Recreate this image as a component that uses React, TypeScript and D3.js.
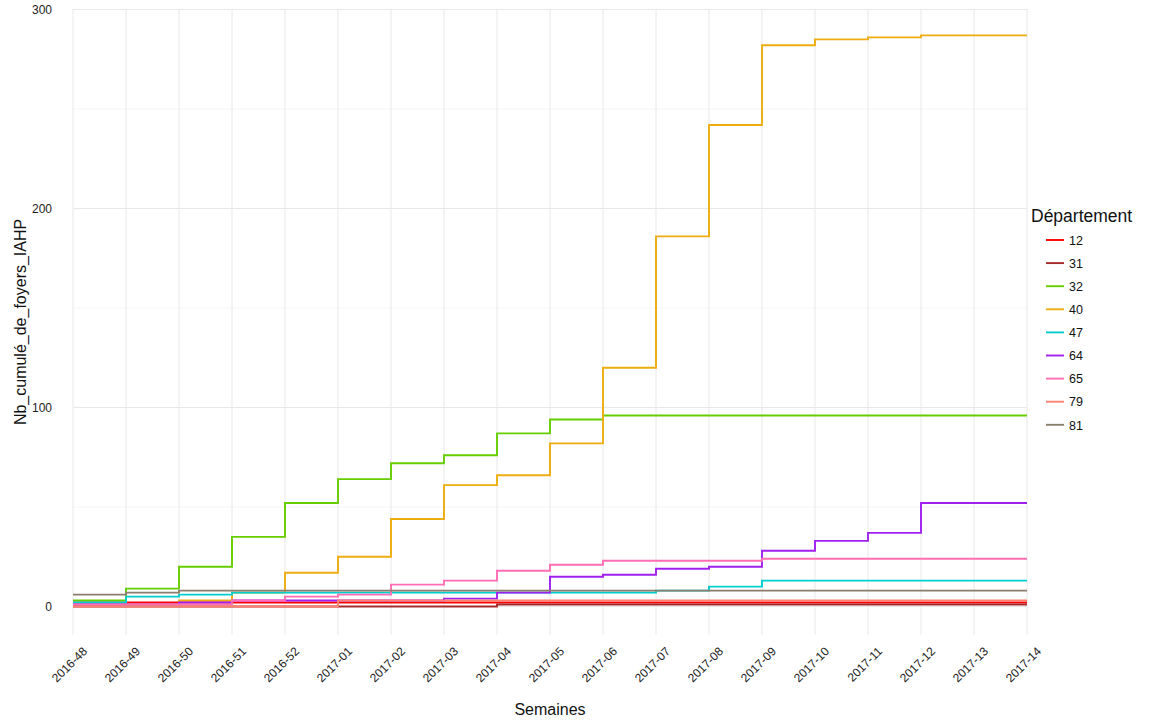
import React from "react";
import * as d3 from "d3";

const weeks = [
  "2016-48", "2016-49", "2016-50", "2016-51", "2016-52",
  "2017-01", "2017-02", "2017-03", "2017-04", "2017-05", "2017-06",
  "2017-07", "2017-08", "2017-09", "2017-10", "2017-11", "2017-12",
  "2017-13", "2017-14",
];

const departements = ["12", "31", "32", "40", "47", "64", "65", "79", "81"];

const colors = ["#FF0000", "#A52A2A", "#66CD00", "#EEAD0E", "#00CDCD", "#A020F0", "#FF6EB4", "#FA8072", "#8B7D6B"];

const d12 = [2, 2, 2, 2, 2, 2, 2, 2, 2, 2, 2, 2, 2, 2, 2, 2, 2, 2, 2];
const d31 = [0, 0, 0, 0, 0, 0, 0, 0, 1, 1, 1, 1, 1, 1, 1, 1, 1, 1, 1];
const d32 = [3, 9, 20, 35, 52, 64, 72, 76, 87, 94, 96, 96, 96, 96, 96, 96, 96, 96, 96];
const d40 = [1, 1, 3, 7, 17, 25, 44, 61, 66, 82, 120, 186, 242, 282, 285, 286, 287, 287, 287];
const d47 = [2, 5, 6, 7, 7, 7, 7, 7, 7, 7, 7, 8, 10, 13, 13, 13, 13, 13, 13];
const d64 = [1, 1, 2, 3, 3, 3, 3, 4, 7, 15, 16, 19, 20, 28, 33, 37, 52, 52, 52];
const d65 = [1, 1, 1, 3, 5, 6, 11, 13, 18, 21, 23, 23, 23, 24, 24, 24, 24, 24, 24];
const d79 = [0, 0, 0, 0, 0, 3, 3, 3, 3, 3, 3, 3, 3, 3, 3, 3, 3, 3, 3];
const d81 = [6, 7, 8, 8, 8, 8, 8, 8, 8, 8, 8, 8, 8, 8, 8, 8, 8, 8, 8];

const seriesValues = [d12, d31, d32, d40, d47, d64, d65, d79, d81];

const yMajor = [0, 100, 200, 300];
const yMinor = [50, 150, 250];

const FONT = "'Liberation Sans', Arial, Helvetica, sans-serif";

export default function App() {
  const x = d3.scaleLinear().domain([0, weeks.length - 1]).range([73, 1027]);
  const y = d3.scaleLinear().domain([-14.3, 300.3]).range([635, 8.9]);
  const [y0, y1] = y.range();

  const line = d3
    .line<number>()
    .x((_, i) => x(i))
    .y((v) => y(v))
    .curve(d3.curveStepAfter);

  return (
    <svg
      width={1174}
      height={726}
      style={{ position: "absolute", left: 0, top: 0, background: "#fff" }}
      fontFamily={FONT}
    >
      {/* grid */}
      {yMinor.map((v) => (
        <line key={"mn" + v} x1={x(0)} x2={x(weeks.length - 1)} y1={y(v)} y2={y(v)} stroke="#f2f2f2" strokeWidth={0.8} />
      ))}
      {yMajor.map((v) => (
        <line key={"mj" + v} x1={x(0)} x2={x(weeks.length - 1)} y1={y(v)} y2={y(v)} stroke="#e8e8e8" strokeWidth={1} />
      ))}
      {weeks.map((w, i) => (
        <line key={"vx" + w} x1={x(i)} x2={x(i)} y1={y0} y2={y1} stroke="#e8e8e8" strokeWidth={1} />
      ))}

      {/* series */}
      {seriesValues.map((vals, k) => (
        <path key={departements[k]} d={line(vals) || ""} fill="none" stroke={colors[k]} strokeWidth={1.9} />
      ))}

      {/* y tick labels */}
      {yMajor.map((v) => (
        <text key={"yl" + v} x={52} y={y(v)} dy="0.35em" textAnchor="end" fontSize={12} fill="#222">
          {v}
        </text>
      ))}

      {/* x tick labels */}
      {weeks.map((w, i) => (
        <text
          key={"xl" + w}
          transform={`translate(${x(i) + 9},${646}) rotate(-45)`}
          textAnchor="end"
          dy="0.7em"
          fontSize={12}
          fill="#222"
        >
          {w}
        </text>
      ))}

      {/* axis titles */}
      <text x={550} y={715} textAnchor="middle" fontSize={16} fill="#111">
        Semaines
      </text>
      <text transform={`translate(26,${(y0 + y1) / 2}) rotate(-90)`} textAnchor="middle" fontSize={16} fill="#111">
        Nb_cumulé_de_foyers_IAHP
      </text>

      {/* legend */}
      <text x={1031} y={222} fontSize={17.5} fill="#111">
        Département
      </text>
      {departements.map((d, k) => (
        <g key={"lg" + d} transform={`translate(1046,${240 + k * 23.1})`}>
          <line x1={0} x2={18} y1={0} y2={0} stroke={colors[k]} strokeWidth={1.9} />
          <text x={23} y={0} dy="0.38em" fontSize={12.5} fill="#111">
            {d}
          </text>
        </g>
      ))}
    </svg>
  );
}
